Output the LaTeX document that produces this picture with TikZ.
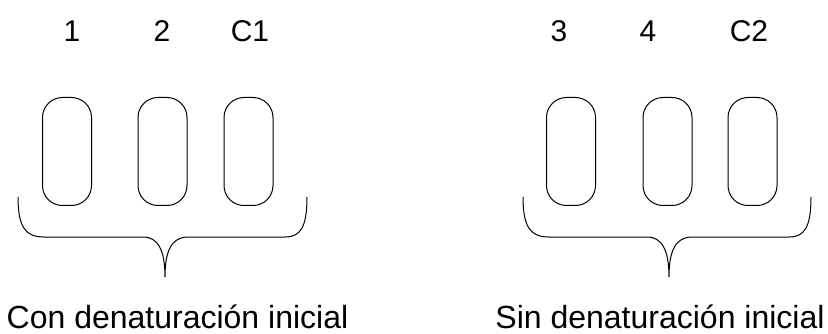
\documentclass[tikz,border=0pt]{standalone}
\usepackage{fontspec}
\setmainfont{Liberation Sans}
\begin{document}
\begin{tikzpicture}[x=1pt,y=-1pt,
  tube/.style={draw, line width=1pt, rounded corners=20pt, minimum width=49pt, minimum height=108pt, inner sep=0pt},
  lbl/.style={anchor=base, font=\fontsize{30}{36}\selectfont, inner sep=0pt},
  captext/.style={anchor=base, font=\fontsize{32}{38}\selectfont, inner sep=0pt},
  bracestyle/.style={line width=1pt}]
\useasboundingbox (0,0) rectangle (828,334);
% left group
\node[tube] (t1) at (67,151.5) {};
\node[tube] (t2) at (162.5,151.5) {};
\node[tube] (tc1) at (248.5,151.5) {};
\node[lbl] (l1) at (72,42) {1};
\node[lbl] (l2) at (162,42) {2};
\node[lbl] (lc1) at (250,42) {C1};
\coordinate (bl1) at (18,197);
\coordinate (bt1) at (165,277);
\coordinate (br1) at (307,197);
\draw[bracestyle] (bl1) .. controls (18,228) and (26,237) .. (44,237) -- (143,237)
  .. controls (158,237) and (165,250) .. (bt1)
  .. controls (165,250) and (172,237) .. (188,237) -- (285,237)
  .. controls (300,237) and (307,228) .. (br1);
\node[captext] (cap1) at (177.5,328.5) {Con denaturación inicial};
% right group
\node[tube] (t3) at (571,151.5) {};
\node[tube] (t4) at (667.5,151.5) {};
\node[tube] (tc2) at (752.5,151.5) {};
\node[lbl] (l3) at (559,42) {3};
\node[lbl] (l4) at (648,42) {4};
\node[lbl] (lc2) at (749,42) {C2};
\coordinate (bl2) at (523,197);
\coordinate (bt2) at (669,277);
\coordinate (br2) at (811,197);
\draw[bracestyle] (bl2) .. controls (523,228) and (531,237) .. (549,237) -- (647,237)
  .. controls (662,237) and (669,250) .. (bt2)
  .. controls (669,250) and (676,237) .. (692,237) -- (789,237)
  .. controls (804,237) and (811,228) .. (br2);
\node[captext] (cap2) at (660,328.5) {Sin denaturación inicial};
\end{tikzpicture}
\end{document}
